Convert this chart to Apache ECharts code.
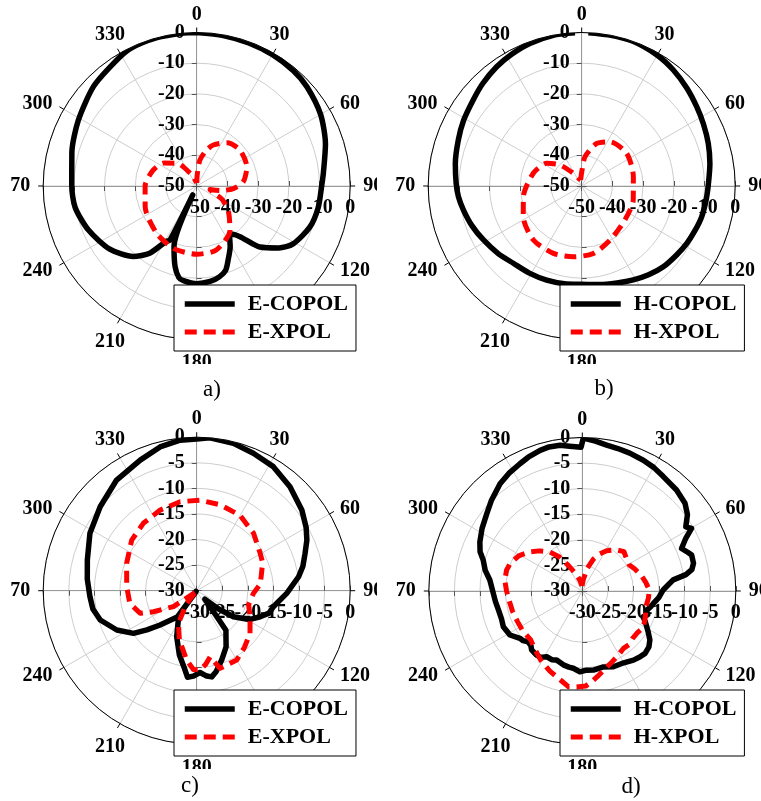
<!DOCTYPE html>
<html>
<head>
<meta charset="utf-8">
<script src="https://cdn.jsdelivr.net/npm/echarts@6/dist/echarts.min.js"></script>
<style>
  html, body { margin: 0; padding: 0; background: #fff; }
  body { width: 761px; height: 801px; position: relative; overflow: hidden; }
  .panel { position: absolute; width: 366px; height: 364px; overflow: hidden; }
  #captions { position: absolute; left: 0; top: 0; width: 761px; height: 801px; }
</style>
</head>
<body>
<div id="captions"></div>
<div class="panel" id="pa" style="left:11px;top:0px"></div>
<div class="panel" id="pb" style="left:396px;top:0px"></div>
<div class="panel" id="pc" style="left:11px;top:405px"></div>
<div class="panel" id="pd" style="left:396px;top:405px"></div>
<script>
// ---- a) simulated E-plane pattern (dB vs angle in degrees) ----
const aCopolAngle = [0, 10, 20, 30, 40, 48, 60, 72, 84, 90, 100, 110, 121, 127, 134, 139.5, 144.5, 147, 151, 157, 161, 166, 172, 180, 188, 191, 195, 200.5, 204, 206.3, 209, 215, 222, 234, 248, 260, 270, 285, 299, 314, 326, 334, 345, 355, 360];
const aCopolGain  = [0, -0.2, -0.4, -0.6, -1.0, -1.7, -3.4, -5.9, -8.5, -9.3, -9.8, -10.8, -13.4, -16.5, -21.4, -28.3, -30.8, -30.3, -27.5, -23.8, -21, -19.5, -18.6, -18.2, -18.9, -19.6, -22.8, -28.9, -46.8, -30.4, -29.3, -23.3, -19.1, -15, -11.9, -9.8, -9.3, -7.9, -5.9, -3.3, -1.7, -0.3, 0, 0, 0];
const aXpolAngle  = [0, 3, 7, 15, 22, 35, 50, 69, 85, 94, 101, 105, 111, 118, 129, 143, 163, 180, 200, 220, 248, 270, 290, 305, 319, 336, 350, 360];
const aXpolGain   = [-49, -46, -41.5, -38, -35.6, -32.8, -31.7, -32.5, -34.8, -38, -42.2, -45.5, -44.3, -40.5, -36.7, -32, -28.2, -27.8, -28.3, -29.8, -31.9, -33.2, -34.9, -37, -40.2, -46, -48.5, -49];

// ---- b) simulated H-plane pattern ----
const bCopolAngle = [2.5, 10, 19.5, 30, 38.3, 47, 55.4, 63, 71.4, 80, 88.8, 96, 104.3, 111, 118.6, 126, 134.7, 143, 151.2, 160, 170, 180, 190, 200.4, 211, 221.5, 231, 241.2, 250, 258.5, 265, 271.2, 280, 290.5, 299, 308.4, 316, 324.5, 332, 340, 350, 357.5];
const bCopolGain  = [0, 0, 0, -0.8, -1.85, -3.2, -4.5, -5.5, -6.5, -7.6, -8.7, -9.2, -9.65, -10.3, -11, -11.8, -12.6, -13.8, -15.1, -16.4, -17.4, -18, -17.7, -17.3, -16.9, -16.4, -15, -13.5, -12, -10.7, -9.7, -9.1, -8.2, -7.1, -6.0, -4.9, -3.6, -2.3, -1.4, -0.6, 0, 0];
const bXpolAngle  = [350, 0, 6.5, 19.4, 32.6, 54, 79.8, 105.2, 128.1, 152.3, 170.2, 186.7, 202.8, 221.8, 242.3, 259.6, 284.7, 302.9, 314.1, 326.7, 340, 350];
const bXpolGain   = [-48, -45.5, -40.4, -35.3, -32.9, -31.9, -32.9, -32.6, -32.1, -30.1, -27.7, -26.8, -26.2, -26.4, -28.5, -30.7, -33.7, -36.4, -40.2, -45.1, -47.5, -48];

// ---- c) measured E-plane pattern ----
const cCopolAngle = [0, 5, 14, 22.4, 31.7, 41.9, 52.5, 60, 65.3, 71, 77, 82.2, 91.7, 101.8, 107.2, 112.3, 118.8, 125.3, 130, 136, 142, 143.5, 152.4, 160.2, 166.6, 170.1, 173.3, 177.7, 182.2, 186.1, 189.5, 195.1, 203.5, 212, 216, 218, 216.5, 226.9, 231.8, 236, 243.8, 253.1, 260, 266.8, 276, 285.7, 298.3, 311, 324.1, 336.6, 345.7, 353.7, 360];
const cCopolGain  = [-0.36, 0, -0.33, -0.96, -1.5, -2.7, -4.1, -5.3, -6.3, -7.6, -8.7, -9.9, -12.4, -14.7, -15.2, -16.6, -18.3, -21.2, -24.5, -27.7, -23.8, -20.4, -17.6, -15.6, -13.7, -12.9, -13.2, -14, -13.3, -13, -14.9, -17, -20.2, -23.2, -23.5, -29.8, -23.6, -20.2, -17.6, -15.1, -12.6, -10.3, -9.4, -9.1, -8.5, -7.8, -6.3, -5.0, -3.3, -2.2, -1.0, -0.4, -0.36];
const cXpolAngle  = [222, 235.6, 244.1, 248.2, 259.2, 273.3, 291.3, 307.9, 321.6, 335.6, 349.4, 2.1, 15.2, 29.8, 44.7, 59.5, 67, 75.1, 84, 92.7, 105, 116, 128.7, 140, 150, 163.3, 168.6, 173, 177.6, 182.4, 188.2, 199.4, 209.3, 218.3, 222];
const cXpolGain   = [-29.5, -24.5, -20.6, -18.1, -16.7, -16.3, -15.3, -13.9, -13.2, -12.7, -12.3, -12.3, -12.6, -13, -14.2, -15.6, -16.0, -16.9, -17.5, -18.9, -19.5, -18.4, -16.65, -15.5, -14.35, -14.15, -16.8, -15.5, -14.5, -14.6, -16.3, -19.8, -22.7, -26.8, -29.5];

// ---- d) measured H-plane pattern ----
const dCopolAngle = [0.4, 5, 9.5, 14, 19, 25, 30, 35.3, 43, 49.5, 54, 58.2, 60.2, 63, 66.8, 70, 71.8, 76, 79, 81, 83, 86, 89.3, 95, 99.9, 103, 107, 110, 113, 116, 119, 122, 125.9, 130, 134.8, 139, 143.5, 150, 157.7, 165, 172, 177, 181.7, 186.6, 190, 194.4, 200.4, 204, 208.5, 212, 215.5, 220.7, 223, 226.8, 230, 232.8, 238.7, 245.7, 251, 257.3, 263, 268.5, 276.8, 282, 287.4, 291, 295.6, 302, 308.9, 315, 322.5, 328, 333.9, 338, 343.3, 347, 351.3, 355, 359.5, 0.4];
const dCopolGain  = [-0.1, -0.6, -1.1, -1.3, -1.5, -1.8, -2.1, -2.6, -3.0, -3.6, -4.6, -6.2, -5.4, -7.3, -8.9, -8.0, -7.5, -7.6, -8.2, -9.5, -12.1, -13.2, -14.2, -15, -15.9, -16.3, -16.9, -16.4, -17.1, -16.3, -15.6, -14.8, -13.7, -13.0, -12.7, -12.9, -13.2, -13.8, -14.0, -14.6, -14.4, -14.5, -14.2, -14.8, -14.9, -15.1, -15.6, -15.3, -15.4, -14.7, -14.6, -14.8, -15.3, -15.5, -14.9, -14.7, -13.45, -13.06, -13.3, -13.2, -12.9, -12.6, -11.8, -10.6, -9.7, -8.6, -7.8, -6.9, -6.0, -4.9, -3.6, -2.9, -2.3, -1.8, -1.3, -1.1, -1.2, -1.6, -1.9, -0.1];
const dXpolAngle  = [357, 5, 12, 19.2, 25, 31.1, 39, 46.6, 54, 61, 67, 74.7, 82, 89.1, 96, 103.8, 112, 120.8, 127, 133.2, 139, 144.4, 151, 157, 164, 170.1, 174, 178, 183.4, 188.3, 196.6, 202, 208.2, 211.1, 218, 226.5, 236, 244.7, 254, 264.3, 270, 277.9, 285.5, 290.7, 299, 306.7, 313, 320.3, 326, 331.4, 340, 347.7, 357];
const dXpolGain   = [-29, -27.8, -25.5, -23.4, -22.0, -20.8, -19.6, -18.8, -19.3, -19.5, -18.9, -18.1, -17.5, -16.9, -17.0, -17.2, -16.7, -16.1, -16.5, -16.5, -16.1, -16.2, -15.6, -15, -14.1, -13, -12.2, -11.4, -11.2, -11.1, -12.5, -13.1, -13.9, -14.25, -15.2, -16.1, -16, -16.0, -15.8, -15.5, -15.2, -14.7, -14.65, -14.9, -15.8, -17.2, -18.5, -20.1, -22, -24.3, -26.5, -27.9, -29];

const ePlaneNames = ['E-COPOL', 'E-XPOL'];
const hPlaneNames = ['H-COPOL', 'H-XPOL'];
const captions = ['a)', 'b)', 'c)', 'd)'];

const FONT = 'Liberation Serif';
const RADIUS = 153.5;
const GRID = '#cdcdcd';
const AXIS = '#9a9a9a';

// Angle labels sit on a ring around the plot; each one gets its own padding
// so the text ends up centred a little outside the outer circle.
const angleLabelPad = {
  0: [0, 0, 36, 0], 30: [0, 0, 33, 1], 60: [0, 0, 0, 19], 90: [0, 0, 0, 23],
  120: [6, 0, 0, 19], 150: [43, 0, 0, 0], 180: [47, 0, 0, 0], 210: [43, 0, 0, 0],
  240: [6, 20, 0, 0], 270: [0, 23, 0, 0], 300: [0, 20, 0, 0], 330: [0, 0, 33, 0]
};
const angleRich = {};
Object.keys(angleLabelPad).forEach(k => {
  angleRich['a' + k] = {
    fontFamily: FONT, fontWeight: 'bold', fontSize: 20, lineHeight: 20,
    color: '#000', padding: angleLabelPad[k]
  };
});

function toPolar(angles, gains) {
  return angles.map((a, i) => [gains[i], a]);
}

function buildPanel(elId, cfg) {
  const chart = echarts.init(document.getElementById(elId), null, { renderer: 'canvas' });
  const center = [cfg.cx, cfg.cy];
  // 0: main (vertical radius labels), 1/4: horizontal radius labels (even/odd ticks),
  // 2/3: left and lower half-axes drawn as plain ticked lines
  const starts = [90, 0, 180, 270, 0];
  const polars = starts.map(() => ({ center: center, radius: RADIUS }));
  const stepIndex = v => Math.round((v - cfg.rMin) / cfg.rStep);

  const angleAxis = starts.map((s, i) => ({
    polarIndex: i,
    type: 'value', min: 0, max: 360, interval: 30,
    startAngle: s, clockwise: true,
    show: i <= 1,
    z: i === 1 ? 3 : 0,
    axisLine: { show: i === 1, lineStyle: { color: '#000', width: 1 } },
    axisTick: { show: i === 1, length: 5, lineStyle: { color: '#000', width: 1 } },
    axisLabel: {
      show: i === 0, margin: -10, color: '#000',
      fontFamily: FONT, fontWeight: 'bold', fontSize: 20, lineHeight: 20,
      formatter: v => (v === 360 ? '' : '{a' + v + '|' + v + '}'),
      rich: angleRich
    },
    splitLine: { show: i === 0, lineStyle: { color: GRID, width: 1 } }
  }));

  const labelFont = { color: '#000', fontFamily: FONT, fontWeight: 'bold', fontSize: 20,
    showMinLabel: true, showMaxLabel: true };
  const horizLabel = parity => Object.assign({
    show: true, margin: -12, verticalAlign: 'top', align: 'center',
    formatter: v => (stepIndex(v) % 2 === parity ? String(v) : '')
  }, labelFont);

  const radiusAxis = starts.map((s, i) => ({
    polarIndex: i,
    type: 'value', min: cfg.rMin, max: 0, interval: cfg.rStep,
    z: 1,
    axisLine: { show: i !== 4, lineStyle: { color: AXIS, width: 1 } },
    axisTick: { show: i !== 4, length: 5, lineStyle: { color: '#555', width: 1 } },
    axisLabel: i === 0
      ? Object.assign({ show: true, margin: 12 }, labelFont)
      : i === 1 ? horizLabel(0)
      : i === 4 ? horizLabel(1)
      : { show: false },
    splitLine: { show: i === 0, lineStyle: { color: GRID, width: 1 } }
  }));

  chart.setOption({
    animation: false,
    textStyle: { fontFamily: FONT },
    polar: polars,
    angleAxis: angleAxis,
    radiusAxis: radiusAxis,
    legend: {
      orient: 'vertical', left: cfg.legendLeft, top: 285, z: 10,
      backgroundColor: '#fff', borderColor: '#000', borderWidth: 1, borderRadius: 0,
      padding: [8, 8, 8, 8], itemWidth: 50, itemHeight: 14, itemGap: 6,
      textStyle: { fontFamily: FONT, fontWeight: 'bold', fontSize: 22, color: '#000', lineHeight: 22, padding: [0, 0, 0, 8] },
      lineStyle: { width: 'inherit' },
      itemStyle: { opacity: 0 },
      data: cfg.names
    },
    series: [
      {
        name: cfg.names[0], type: 'line', coordinateSystem: 'polar', polarIndex: 0,
        data: toPolar(cfg.copol[0], cfg.copol[1]),
        symbol: 'none', smooth: cfg.smooth, clip: false, silent: true, z: 5,
        lineStyle: { color: '#000', width: 5.5, cap: 'butt', join: 'round' },
        itemStyle: { color: '#000' }
      },
      {
        name: cfg.names[1], type: 'line', coordinateSystem: 'polar', polarIndex: 0,
        data: toPolar(cfg.xpol[0], cfg.xpol[1]),
        symbol: 'none', smooth: cfg.smooth, clip: false, silent: true, z: 5,
        lineStyle: { color: '#ff0000', width: 5, type: [12, 7], cap: 'butt', join: 'round' },
        itemStyle: { color: '#ff0000' }
      }
    ]
  });
  return chart;
}

buildPanel('pa', { cx: 185.7, cy: 186, rMin: -50, rStep: 10, legendLeft: 163, smooth: 0.25,
  copol: [aCopolAngle, aCopolGain], xpol: [aXpolAngle, aXpolGain], names: ePlaneNames });
buildPanel('pb', { cx: 185.7, cy: 186, rMin: -50, rStep: 10, legendLeft: 164, smooth: 0.25,
  copol: [bCopolAngle, bCopolGain], xpol: [bXpolAngle, bXpolGain], names: hPlaneNames });
buildPanel('pc', { cx: 185.7, cy: 185.7, rMin: -30, rStep: 5, legendLeft: 163, smooth: false,
  copol: [cCopolAngle, cCopolGain], xpol: [cXpolAngle, cXpolGain], names: ePlaneNames });
buildPanel('pd', { cx: 186.3, cy: 186, rMin: -30, rStep: 5, legendLeft: 164, smooth: false,
  copol: [dCopolAngle, dCopolGain], xpol: [dXpolAngle, dXpolGain], names: hPlaneNames });

// Sub-figure captions under each polar plot
const capChart = echarts.init(document.getElementById('captions'));
const capPos = [[212, 390], [604, 389], [190, 786], [631, 787]];
capChart.setOption({
  animation: false,
  graphic: captions.map((t, i) => ({
    type: 'text', x: capPos[i][0], y: capPos[i][1], silent: true,
    style: { text: t, fill: '#000', font: '23px "Liberation Serif"', textAlign: 'center', textVerticalAlign: 'middle' }
  }))
});
</script>
</body>
</html>
